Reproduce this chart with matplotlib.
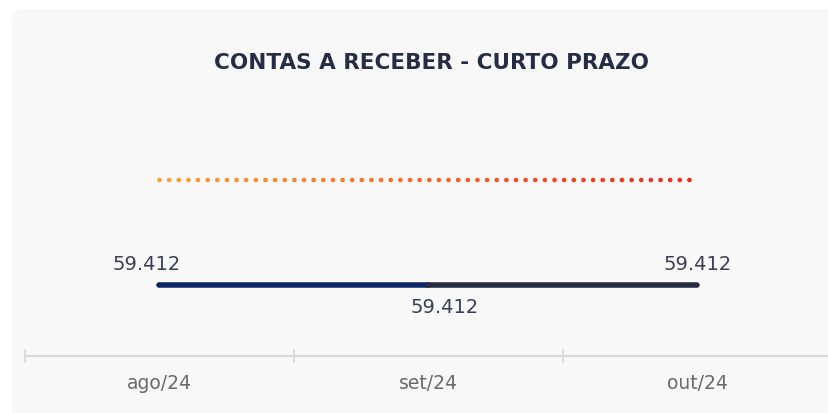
import numpy as np
import matplotlib
matplotlib.use("Agg")
import matplotlib.pyplot as plt
from matplotlib.patches import FancyBboxPatch
from matplotlib.collections import LineCollection
from matplotlib.colors import LinearSegmentedColormap

# ---- data ----
categories = ["ago/24", "set/24", "out/24"]
realizado = [59412, 59412, 59412]
referencia = [80000, 80000, 80000]   # dotted line (unlabelled), estimated
labels = ["59.412", "59.412", "59.412"]
title = "CONTAS A RECEBER - CURTO PRAZO"

W, H = 829, 414
fig = plt.figure(figsize=(W / 100, H / 100), dpi=100)
fig.patch.set_facecolor("white")

# background card (drawn in its own full-figure axes, behind everything)
bg = fig.add_axes([0, 0, 1, 1], zorder=-5)
bg.set_xlim(0, W)
bg.set_ylim(H, 0)
bg.axis("off")
bg.add_patch(FancyBboxPatch((12, 10), W + 40, H + 20,
                            boxstyle="round,pad=0,rounding_size=14",
                            facecolor="#f8f8f8", edgecolor="none"))

# axes: x from 25px to 832px, y from 357px (bottom) to 122px (top)
left, right, bottom, top = 25, 832, 357, 122
ax = fig.add_axes([left / W, (H - bottom) / H, (right - left) / W, (bottom - top) / H])
ax.set_facecolor("none")
x = np.arange(len(categories))
ax.set_xlim(-0.5, len(categories) - 0.5)
ax.set_ylim(45491, 91569)

# dotted gradient line
n_dots = 56
xd = np.linspace(x[0], x[-1] - 0.03, n_dots)
yd = np.interp(xd, x, referencia)
cmap = LinearSegmentedColormap.from_list("og", ["#f9a332", "#f5672a", "#ec2a1f"])
ax.scatter(xd, yd, s=11, c=cmap(np.linspace(0, 1, n_dots)), linewidths=0, zorder=3)

# solid line, two segments with different colours
seg_colors = ["#0c2566", "#272b44"]
segs = [[(x[i], realizado[i]), (x[i + 1], realizado[i + 1])] for i in range(len(x) - 1)]
lc = LineCollection(segs, colors=seg_colors, linewidths=4, capstyle="round", zorder=4)
ax.add_collection(lc)

# value labels
lab_font = dict(fontsize=14, color="#3b3f55", family="DejaVu Sans")
offsets = [(-13, 12, "bottom"), (16, -12, "top"), (0, 12, "bottom")]
for i, (xi, yi) in enumerate(zip(x, realizado)):
    dx, dy, va = offsets[i]
    ax.annotate(labels[i], (xi, yi), xytext=(dx, dy), textcoords="offset pixels",
                ha="center", va=va, **lab_font)

# axis styling
for s in ["top", "right", "left"]:
    ax.spines[s].set_visible(False)
ax.spines["bottom"].set_color("#d9d9d9")
ax.spines["bottom"].set_linewidth(1.5)
ax.set_yticks([])
ax.set_xticks(np.arange(-0.5, len(categories) + 0.5, 1))
ax.set_xticklabels([])
ax.tick_params(axis="x", length=10, width=1.2, color="#d9d9d9", direction="inout")
ax.set_xticks(x, minor=True)
ax.set_xticklabels(categories, minor=True, fontsize=13.5, color="#6a6a6a",
                   family="DejaVu Sans")
ax.tick_params(axis="x", which="minor", length=0, pad=12)

fig.text(431 / W, 1 - 63 / H, title, ha="center", va="center", fontsize=15.5,
         fontweight="bold", color="#262b46", family="DejaVu Sans")

fig.savefig("out.png", dpi=100, facecolor="white")
